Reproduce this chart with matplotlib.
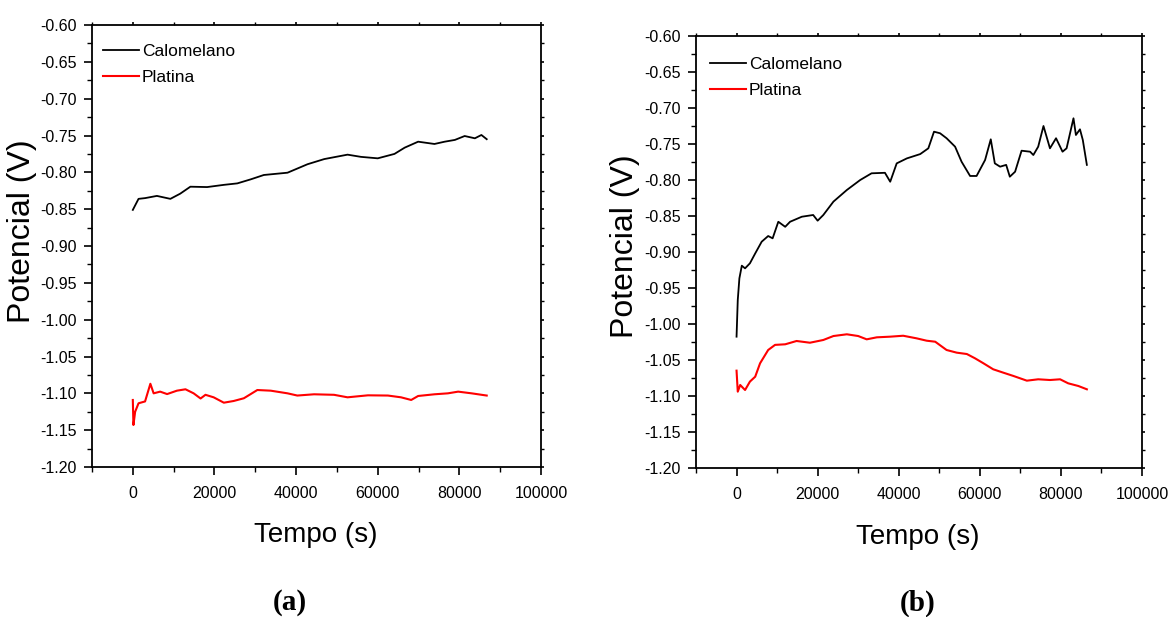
import matplotlib
import numpy as np

matplotlib.use("Agg")

import matplotlib.pyplot as plt  # noqa: E402
from matplotlib.ticker import MultipleLocator, FormatStrFormatter  # noqa: E402

plt.rcParams["font.family"] = ["Liberation Sans", "DejaVu Sans"]

W, H = 1169, 617

# (a) Calomelano
a_cal_t = [0, 1400, 3000, 5900, 9200, 11600, 14100, 18200, 22300, 25600, 28900, 32100,
           37900, 42800, 46900, 52600, 55900, 60000, 64100, 66600, 69900, 73900, 76400,
           78900, 81300, 83800, 85400, 86700]
a_cal_v = [-0.851, -0.836, -0.835, -0.832, -0.836, -0.829, -0.8195, -0.820, -0.817, -0.815,
           -0.8095, -0.8036, -0.8005, -0.789, -0.782, -0.776, -0.779, -0.781, -0.775, -0.7665,
           -0.7584, -0.7615, -0.7584, -0.756, -0.7507, -0.7538, -0.7493, -0.755]

# (a) Platina
a_pt_t = [0, 150, 570, 1400, 3000, 4300, 5100, 6700, 8400, 10800, 12900, 14900, 16600,
          17800, 19800, 22300, 24700, 27200, 30500, 33800, 37900, 40300, 44400, 49300,
          52600, 57600, 62500, 65700, 68200, 69900, 73900, 77200, 79700, 83000, 86700]
a_pt_v = [-1.109, -1.143, -1.125, -1.1135, -1.111, -1.087, -1.100, -1.0977, -1.101, -1.0964,
          -1.0945, -1.100, -1.107, -1.102, -1.1054, -1.1127, -1.1104, -1.1067, -1.0955,
          -1.0964, -1.100, -1.103, -1.1013, -1.102, -1.1054, -1.1027, -1.103, -1.1054,
          -1.109, -1.1036, -1.1013, -1.100, -1.0977, -1.100, -1.103]

# (b) Calomelano
b_cal_t = [0, 300, 700, 1300, 2100, 3300, 4600, 6200, 7800, 8900, 10300, 12000, 13200,
           16100, 18900, 20000, 21400, 23900, 27200, 30500, 33300, 36600, 37900, 39500,
           42000, 45300, 47300, 48700, 50200, 51800, 53900, 55500, 57600, 59200, 61300,
           62700, 63700, 65000, 66500, 67400, 68700, 70300, 72400, 73200, 74400, 75700,
           77300, 78800, 80400, 81400, 83100, 83700, 84700, 85400, 86400]
b_cal_v = [-1.0176, -0.9667, -0.9366, -0.919, -0.9227, -0.9157, -0.902, -0.8857, -0.8778,
           -0.881, -0.858, -0.865, -0.858, -0.851, -0.8486, -0.8565, -0.8486, -0.830,
           -0.8139, -0.800, -0.7907, -0.790, -0.8024, -0.7769, -0.770, -0.764, -0.756,
           -0.7329, -0.7351, -0.742, -0.7537, -0.7746, -0.7944, -0.7944, -0.7722, -0.7435,
           -0.7769, -0.7815, -0.779, -0.7954, -0.7885, -0.7593, -0.7607, -0.7653, -0.7537,
           -0.725, -0.756, -0.742, -0.7607, -0.756, -0.7143, -0.7375, -0.7296, -0.7444,
           -0.779]

# (b) Platina
b_pt_t = [0, 300, 900, 2100, 3300, 4600, 5800, 7800, 9500, 12000, 14800, 18100, 21400,
          23900, 27200, 30000, 32100, 34600, 37900, 41100, 44400, 46900, 49000, 51800,
          54300, 56800, 58800, 60900, 63300, 65800, 68300, 71600, 74400, 77300, 79800,
          81800, 84300, 86400]
b_pt_v = [-1.0648, -1.094, -1.0847, -1.0917, -1.080, -1.0732, -1.0546, -1.0361, -1.029,
          -1.0282, -1.0236, -1.026, -1.0222, -1.0167, -1.0143, -1.0167, -1.0213, -1.0185,
          -1.0176, -1.0163, -1.0199, -1.0232, -1.0246, -1.0361, -1.0398, -1.0417, -1.0476,
          -1.0546, -1.0629, -1.0676, -1.0722, -1.0787, -1.0768, -1.0778, -1.0768, -1.0824,
          -1.0861, -1.0907]

panels = [
    ("(a)", a_cal_t, a_cal_v, a_pt_t, a_pt_v),
    ("(b)", b_cal_t, b_cal_v, b_pt_t, b_pt_v),
]

# axes boxes in pixels: left, top, right, bottom
boxes = [(92, 25, 541, 467), (696, 36, 1142, 468)]
# text anchors in pixels: y-label centre, x-label centre, panel tag centre
ylab_xy = [(22, 231), (625, 246)]
xlab_xy = [(316, 535), (918, 537)]
tag_xy = [(290, 603), (918, 603)]


def fx(px):
    return px / W


def fy(py):
    return 1 - py / H


fig = plt.figure(figsize=(W / 100, H / 100), dpi=100)

for i, ((tag, ct, cv, pt, pv), (l, t, r, b)) in enumerate(zip(panels, boxes)):
    ax = fig.add_axes([fx(l), fy(b), (r - l) / W, (b - t) / H])
    ax.plot(ct, cv, color="black", linewidth=1.3, label="Calomelano")
    ax.plot(pt, pv, color="#ff0000", linewidth=1.5, label="Platina")

    ax.set_xlim(-10000, 100000)
    ax.set_ylim(-1.20, -0.60)
    ax.xaxis.set_major_locator(MultipleLocator(20000))
    ax.xaxis.set_minor_locator(MultipleLocator(10000))
    ax.yaxis.set_major_locator(MultipleLocator(0.05))
    ax.yaxis.set_minor_locator(MultipleLocator(0.025))
    ax.yaxis.set_major_formatter(FormatStrFormatter("%.2f"))
    ax.xaxis.set_major_formatter(FormatStrFormatter("%d"))

    ax.tick_params(axis="both", which="major", direction="out", length=6, width=1.2,
                   labelsize=11.5)
    ax.tick_params(axis="x", which="major", pad=8)
    ax.tick_params(axis="y", which="major", pad=5)
    ax.tick_params(axis="both", which="minor", direction="out", length=3.5, width=1.0)
    ax.tick_params(top=True, right=True, which="both")
    for spine in ax.spines.values():
        spine.set_linewidth(1.3)
    # short ticks on the top and right spines
    for tl in ax.xaxis.get_ticklines(minor=False)[1::2] + ax.xaxis.get_ticklines(minor=True)[1::2]:
        tl.set_markersize(2)
    for tl in ax.yaxis.get_ticklines(minor=False)[1::2] + ax.yaxis.get_ticklines(minor=True)[1::2]:
        tl.set_markersize(2)

    lx = 11 / (r - l) if i == 0 else 14 / (r - l)
    ly = 1 - (19 if i == 0 else 21) / (b - t)
    ax.legend(loc="upper left", bbox_to_anchor=(lx, ly), frameon=False,
              fontsize=12.5, handlelength=2.05, handletextpad=0.2, labelspacing=0.6,
              borderpad=0, borderaxespad=0)

    fig.text(fx(ylab_xy[i][0]), fy(ylab_xy[i][1]), "Potencial (V)", rotation=90,
             ha="center", va="center", fontsize=23)
    fig.text(fx(xlab_xy[i][0]), fy(xlab_xy[i][1]), "Tempo (s)", ha="center", va="center",
             fontsize=20)
    fig.text(fx(tag_xy[i][0]), fy(tag_xy[i][1]), tag, ha="center", va="center",
             fontsize=21, fontweight="bold", family=["Liberation Serif", "DejaVu Serif"])

fig.savefig("out.png", dpi=100, facecolor="white")
